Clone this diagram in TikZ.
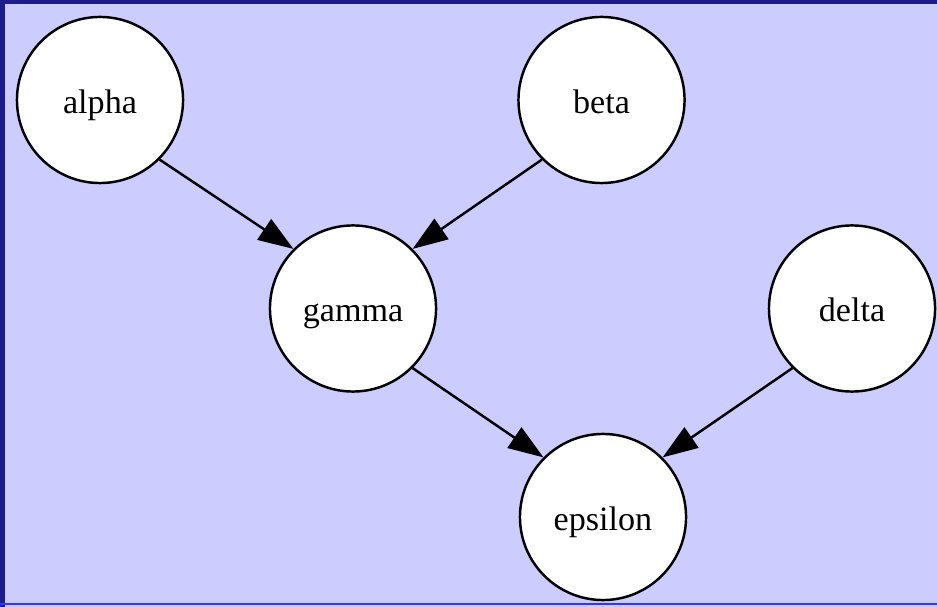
\documentclass[tikz,border=0pt]{standalone}
\usepackage{fontspec}
\setmainfont{Liberation Serif}
\usepackage{xcolor}
\usepackage{tikz}
\usetikzlibrary{arrows.meta}

\definecolor{lavender}{HTML}{CCCCFF}
\definecolor{navyband}{HTML}{1C1C8A}
\definecolor{blueline}{HTML}{3333FF}

\tikzset{
  vertex/.style={circle, draw=black, line width=0.7pt, fill=white,
    minimum size=1.66cm, inner sep=0pt, text height=7.4pt, text depth=0pt,
    font=\fontsize{9.7}{11}\selectfont},
  edge/.style={draw=black, line width=0.7pt,
    -{Triangle[length=10pt,width=7pt]}}
}

\begin{document}
\begin{tikzpicture}[x=0.01cm, y=-0.01cm]
  \useasboundingbox (0,0) rectangle (937,607);
  % background and frame
  \fill[lavender] (0,0) rectangle (937,607);
  \fill[navyband] (0,0) rectangle (5,607);
  \fill[navyband] (0,0) rectangle (937,4);
  \fill[blueline] (0,603.3) rectangle (937,605);

  \node[vertex] (alpha)   at (100,100)   {alpha};
  \node[vertex] (beta)    at (601.5,100) {beta};
  \node[vertex] (gamma)   at (353,308.5) {gamma};
  \node[vertex] (delta)   at (852,308.5) {delta};
  \node[vertex] (epsilon) at (603,517)   {epsilon};

  \draw[edge] (alpha.-45) -- (gamma.135);
  \draw[edge] (beta.-135) -- (gamma.45);
  \draw[edge] (gamma.-45) -- (epsilon.135);
  \draw[edge] (delta.-135) -- (epsilon.45);
\end{tikzpicture}
\end{document}
